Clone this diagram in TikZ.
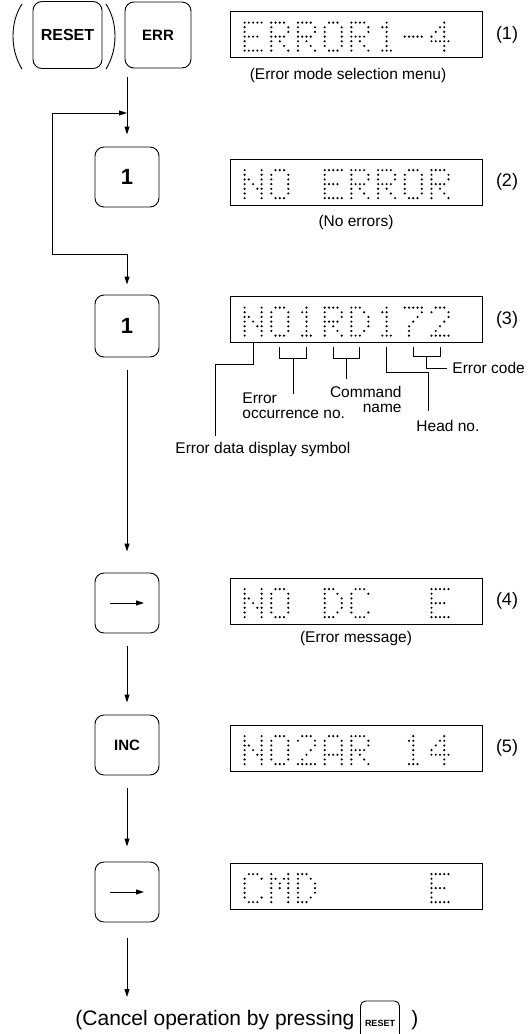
\documentclass[tikz,border=0pt]{standalone}
\usepackage{fontspec}
\setmainfont{Liberation Sans}
\usetikzlibrary{arrows.meta,calc}

\newcommand\lcddef[2]{\expandafter\def\csname lcd#1\endcsname{#2}}
\lcddef{E}{11111,10000,10000,11110,10000,10000,11111}
\lcddef{R}{11110,10001,10001,11110,10100,10010,10001}
\lcddef{O}{01110,10001,10001,10001,10001,10001,01110}
\lcddef{N}{10001,10001,11001,10101,10011,10001,10001}
\lcddef{D}{11100,10010,10001,10001,10001,10010,11100}
\lcddef{C}{01110,10001,10000,10000,10000,10001,01110}
\lcddef{A}{01110,10001,10001,10001,11111,10001,10001}
\lcddef{M}{10001,11011,10101,10101,10001,10001,10001}
\lcddef{1}{00100,01100,00100,00100,00100,00100,01110}
\lcddef{2}{01110,10001,00001,00010,00100,01000,11111}
\lcddef{4}{00010,00110,01010,10010,11111,00010,00010}
\lcddef{7}{11111,00001,00010,00100,01000,01000,01000}
\lcddef{-}{00000,00000,00000,11111,00000,00000,00000}
\lcddef{s}{00000,00000,00000,00000,00000,00000,00000}
\newcommand\lcddot[2]{\ifnum#2=1 \fill (15+\k*26.7+#1*4.25, 11.5+\ri*4.67) circle (1.2);\fi}
\newcommand\lcdrow[5]{\lcddot0#1\lcddot1#2\lcddot2#3\lcddot3#4\lcddot4#5}
\newcommand\lcdtext[1]{\foreach \ch [count=\k from 0] in {#1} {\edef\rows{\csname lcd\ch\endcsname}\foreach \rw [count=\ri from 0] in \rows {\expandafter\lcdrow\rw}}}

\begin{document}
\begin{tikzpicture}[x=1pt, y=-1pt, line width=0.9pt,
	key/.style={draw, rounded corners=9pt, minimum width=64pt, minimum height=60pt, inner sep=0pt, font=\bfseries\fontsize{15}{18}\selectfont},
	bigkey/.style={key, font=\bfseries\fontsize{22}{24}\selectfont},
	disp/.style={draw, line width=0.8pt, minimum width=252pt, minimum height=46pt, inner sep=0pt},
	tip/.style={-{Triangle[length=8pt,width=5pt]}},
	flow/.style={tip, shorten <=13pt, shorten >=12pt},
	note/.style={inner sep=0pt, font=\fontsize{15.5}{15}\selectfont},
	num/.style={font=\fontsize{18}{20}\selectfont}]
	\useasboundingbox (0,0) rectangle (529,1034);

	\node[key, minimum width=69pt, minimum height=67pt, font=\bfseries\fontsize{16}{18}\selectfont] (kReset) at (67.5,35) {RESET};
	\node[key, minimum width=66pt, minimum height=66pt] (kErr) at (158,35) {ERR};
	\draw (22,4) .. controls (10,22) and (10,50) .. (22,69);
	\draw (106,4) .. controls (118,22) and (118,50) .. (106,69);
	\node[disp] (d1) at (356,34.5) {};
	\node[num] (n1) at (507,34.5) {(1)};
	\node[note] (c1) at (348,75) {(Error mode selection menu)};

	\coordinate (s0) at (127,77);
	\coordinate (jA) at (127,113);
	\coordinate (jB) at (127,254);
	\node[bigkey] (kOne1) at (127,177) {1};
	\draw[flow, shorten <=0pt] (s0) -- (kOne1);
	\draw[tip] (jB) -- ++(-75,0) |- (jA);
	\node[disp] (d2) at (356,182) {};
	\node[num] (n2) at (507,182) {(2)};
	\node[note] (c2) at (356,222) {(No errors)};

	\node[bigkey, minimum height=62pt] (kOne2) at (127,326) {1};
	\draw[flow, shorten <=0pt, shorten >=10pt] (jB) -- (kOne2);
	\node[disp] (d3) at (356,319.5) {};
	\node[num] (n3) at (507,319.5) {(3)};
	\foreach \i in {0,...,7}
		\coordinate (d3c\i) at ([xshift=23.5pt+26.7pt*\i, yshift=-4pt]d3.south west);

	\node[note, anchor=north west] (tSym) at (175,442) {Error data display symbol};
	\node[note, anchor=north west, align=left] (tOcc) at (242,392) {Error\\occurrence no.};
	\node[note, anchor=north east, align=right] (tCmd) at (402,386) {Command\\name};
	\node[note, anchor=north west] (tHead) at (416,420) {Head no.};
	\node[note, anchor=west] (tCode) at (452,368) {Error code};
	\draw (d3c0 |- d3.south) -- ++(0,21.5) -- ++(-37.5,0) -- ++(0,72);
	\draw (d3c1) -- ++(0,12) -| (d3c2);
	\draw ($(d3c1)!0.5!(d3c2)+(0,12)$) -- ++(0,35);
	\draw (d3c3) -- ++(0,12) -| (d3c4);
	\draw ($(d3c3)!0.5!(d3c4)+(0,12)$) -- ++(0,20);
	\draw (d3c5) -- ++(0,26) -- ++(42,0) -- ++(0,38);
	\draw (d3c6) -- ++(0,10) -| (d3c7);
	\draw ($(d3c6)!0.5!(d3c7)+(0,10)$) -- ++(0,12) -- ++(20,0);

	\node[key] (kArr1) at (127,603) {};
	\draw[tip] ([xshift=-17pt]kArr1.center) -- ([xshift=17pt]kArr1.center);
	\draw[flow, shorten >=21pt] (kOne2) -- (kArr1);
	\node[disp] (d4) at (356,601) {};
	\node[num] (n4) at (507,601) {(4)};
	\node[note] (c4) at (356,638) {(Error message)};

	\node[key] (kInc) at (127,745) {INC};
	\draw[flow] (kArr1) -- (kInc);
	\node[disp] (d5) at (356,748) {};
	\node[num] (n5) at (507,748) {(5)};

	\node[key] (kArr2) at (127,892) {};
	\draw[tip] ([xshift=-17pt]kArr2.center) -- ([xshift=17pt]kArr2.center);
	\draw[flow, shorten >=15pt] (kInc) -- (kArr2);
	\node[disp] (d6) at (356,886) {};

	\coordinate (e0) at (127,997);
	\draw[flow, shorten <=16pt, shorten >=0pt] (kArr2) -- (e0);
	\node[inner sep=0pt, anchor=base west, font=\fontsize{21}{24}\selectfont] (cancel) at (75,1025) {(Cancel operation by pressing};
	\node[draw, rounded corners=5pt, minimum width=39pt, minimum height=44pt, inner sep=0pt, font=\bfseries\fontsize{9}{10}\selectfont] (kRst) at (380,1023) {RESET};
	\node[inner sep=0pt, anchor=base west, font=\fontsize{21}{24}\selectfont] (close) at (411,1025) {)};

	\begin{scope}[shift={(d1.north west)}]\lcdtext{E,R,R,O,R,1,-,4}\end{scope}
	\begin{scope}[shift={(d2.north west)}]\lcdtext{N,O,s,E,R,R,O,R}\end{scope}
	\begin{scope}[shift={(d3.north west)}]\lcdtext{N,O,1,R,D,1,7,2}\end{scope}
	\begin{scope}[shift={(d4.north west)}]\lcdtext{N,O,s,D,C,s,s,E}\end{scope}
	\begin{scope}[shift={(d5.north west)}]\lcdtext{N,O,2,A,R,s,1,4}\end{scope}
	\begin{scope}[shift={(d6.north west)}]\lcdtext{C,M,D,s,s,s,s,E}\end{scope}
\end{tikzpicture}
\end{document}
